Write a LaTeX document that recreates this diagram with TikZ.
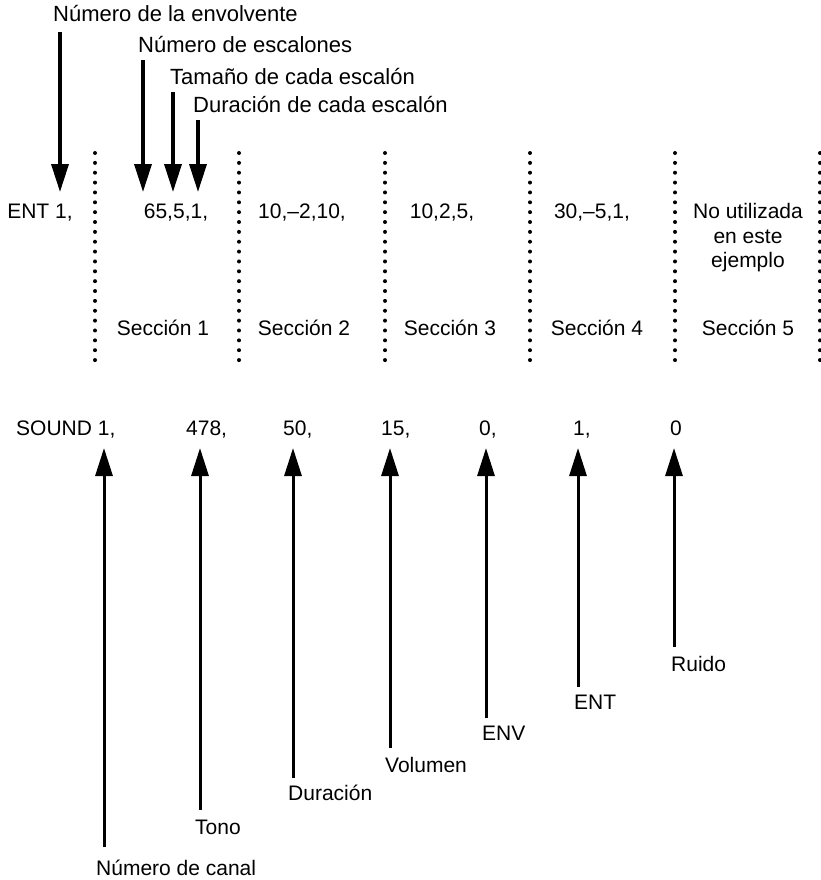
\documentclass[tikz,border=0pt]{standalone}
\usepackage{fontspec}
\setmainfont{Liberation Sans}
\usetikzlibrary{arrows.meta}
\begin{document}
\begin{tikzpicture}[x=1pt,y=-1pt,
  toplab/.style={anchor=base west,inner sep=0pt,font=\fontsize{22}{26}\selectfont},
  lab/.style={anchor=base west,inner sep=0pt,font=\fontsize{21}{25}\selectfont},
  val/.style={anchor=base,inner sep=0pt,font=\fontsize{21}{25}\selectfont},
  darr/.style={line width=3.5pt,-{Triangle[length=28pt,width=17pt]}},
  uarr/.style={line width=3pt,-{Triangle[length=28pt,width=17pt]}},
  sepline/.style={line width=4pt,line cap=round,dash pattern=on 0pt off 9.86pt}]
\useasboundingbox[fill=white] (0,0) rectangle (821,880);

% top labels
\node[toplab] (l1) at (53,22) {Número de la envolvente};
\node[toplab] (l2) at (138,53) {Número de escalones};
\node[toplab] (l3) at (170,85) {Tamaño de cada escalón};
\node[toplab] (l4) at (193,113) {Duración de cada escalón};

% ENT row
\node[val] (ent) at (40,218) {ENT 1,};
\node[val] (s1v) at (176,218) {65,5,1,};
\node[val] (s2v) at (302,218) {10,–2,10,};
\node[val] (s3v) at (442,218) {10,2,5,};
\node[val] (s4v) at (592,218) {30,–5,1,};
\node[val] (nu1) at (748,218) {No utilizada};
\node[val] (nu2) at (748,243) {en este};
\node[val] (nu3) at (748,267) {ejemplo};

% section labels
\node[val] (sec1) at (163,335) {Sección 1};
\node[val] (sec2) at (304,335) {Sección 2};
\node[val] (sec3) at (450,335) {Sección 3};
\node[val] (sec4) at (597,335) {Sección 4};
\node[val] (sec5) at (748,335) {Sección 5};

% dotted separators
\foreach \xx in {95,239,385,530,675,820}
  \draw[sepline] (\xx,153) -- (\xx,361);

% down arrows
\coordinate (d1) at (60,192);
\coordinate (d2) at (143,192);
\coordinate (d3) at (173,192);
\coordinate (d4) at (198,192);
\draw[darr] ([yshift=-10pt]l1.base -| d1) -- (d1);
\draw[darr] ([yshift=-7pt]l2.base -| d2) -- (d2);
\draw[darr] ([yshift=-7pt]l3.base -| d3) -- (d3);
\draw[darr] ([yshift=-7pt]l4.base -| d4) -- (d4);

% SOUND row
\node[lab] (snd) at (16,435) {SOUND 1,};
\node[lab] (v2) at (186,435) {478,};
\node[lab] (v3) at (283,435) {50,};
\node[lab] (v4) at (381,435) {15,};
\node[lab] (v5) at (479,435) {0,};
\node[lab] (v6) at (573,435) {1,};
\node[lab] (v7) at (670,435) {0};

% bottom labels
\node[lab] (b1) at (96,875) {Número de canal};
\node[lab] (b2) at (195,834) {Tono};
\node[lab] (b3) at (288,800) {Duración};
\node[lab] (b4) at (385,772) {Volumen};
\node[lab] (b5) at (482,740) {ENV};
\node[lab] (b6) at (574,709) {ENT};
\node[lab] (b7) at (671,671) {Ruido};

% up arrows
\foreach \i/\xx/\yy in {1/104/847,2/200/810,3/293/778,4/390/748,5/486/718,6/578/687,7/674/647}{
  \coordinate (u\i) at (\xx,448);
  \coordinate (e\i) at (\xx,\yy);
  \draw[uarr] (e\i) -- (u\i);
}
\end{tikzpicture}
\end{document}
